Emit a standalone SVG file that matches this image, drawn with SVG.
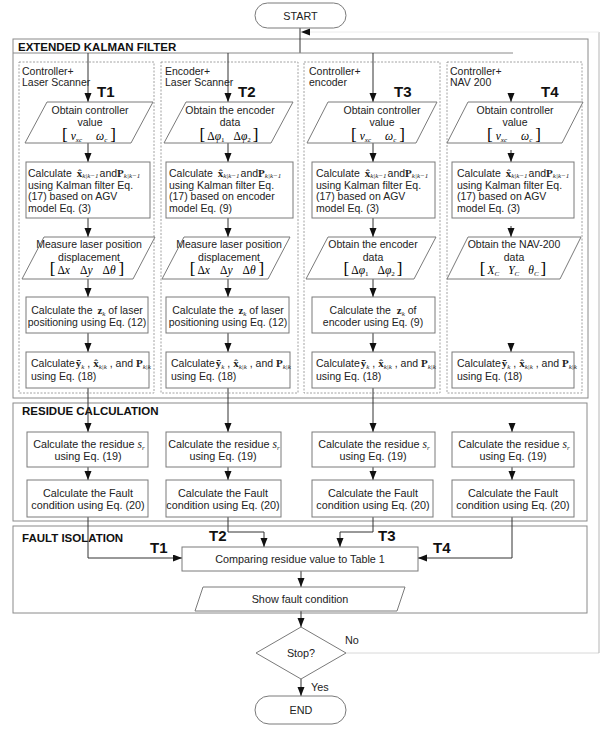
<svg xmlns="http://www.w3.org/2000/svg" width="601" height="729" viewBox="0 0 601 729">
<defs>
<style>
.sec{fill:none;stroke:#8a8a8a;stroke-width:1}
.dash{fill:none;stroke:#8a8a8a;stroke-width:0.8;stroke-dasharray:2 1.5}
.box{fill:#fff;stroke:#7a7a7a;stroke-width:1}
.ln{fill:none;stroke:#333;stroke-width:1}
.t{font-family:"Liberation Sans",Arial,sans-serif;font-size:10.5px;fill:#222}
.r{font-family:"Liberation Sans",Arial,sans-serif;font-size:10.8px;fill:#222}
.h{font-family:"Liberation Sans",Arial,sans-serif;font-size:11.5px;font-weight:bold;fill:#111}
.T{font-family:"Liberation Sans",Arial,sans-serif;font-size:15px;font-weight:bold;fill:#111}
.c{text-anchor:middle}
.mi{font-family:"Liberation Serif",serif;font-style:italic;font-size:11.5px}
.mr{font-family:"Liberation Serif",serif;font-size:11.5px}
.mb{font-family:"Liberation Serif",serif;font-weight:bold;font-size:11px}
.sb{font-family:"Liberation Serif",serif;font-style:italic;font-size:7px}
.sr{font-family:"Liberation Serif",serif;font-size:7px}
.br{font-family:"Liberation Serif",serif;font-size:17px}
</style>
<marker id="ar" markerUnits="userSpaceOnUse" markerWidth="9" markerHeight="8" refX="9" refY="3.5" orient="auto">
<path d="M0,0 L9,3.5 L0,7 z" fill="#111"/>
</marker>
</defs>
<rect width="601" height="729" fill="#fff"/>

<g id="sections">
<rect class="sec" x="13" y="39" width="575" height="359"/>
<rect class="sec" x="13" y="403" width="574" height="118"/>
<rect class="sec" x="13" y="526" width="574" height="87"/>
<text class="h" x="18" y="51">EXTENDED KALMAN FILTER</text>
<text class="h" x="22" y="415">RESIDUE CALCULATION</text>
<text class="h" x="22" y="542">FAULT ISOLATION</text>
</g>

<g id="lanes">
<rect class="dash" x="19" y="62" width="135" height="331"/>
<rect class="dash" x="161" y="62" width="137" height="331"/>
<rect class="dash" x="304" y="62" width="136" height="331"/>
<rect class="dash" x="447" y="62" width="135" height="331"/>
<text class="t" x="22" y="75">Controller+</text>
<text class="t" x="22" y="86">Laser Scanner</text>
<text class="t" x="165" y="75">Encoder+</text>
<text class="t" x="165" y="86">Laser Scanner</text>
<text class="t" x="309" y="75">Controller+</text>
<text class="t" x="309" y="86">encoder</text>
<text class="t" x="450" y="75">Controller+</text>
<text class="t" x="450" y="86">NAV 200</text>
<text class="T" x="97" y="97">T1</text>
<text class="T" x="238" y="97">T2</text>
<text class="T" x="394" y="97">T3</text>
<text class="T" x="541" y="97">T4</text>
</g>

<g id="connectors">
<line class="ln" x1="300" y1="28" x2="300" y2="53"/>
<line x1="13" y1="53" x2="513" y2="53" stroke="#8a8a8a"/>
<line class="ln" x1="88" y1="53" x2="88" y2="102" marker-end="url(#ar)"/>
<line class="ln" x1="228" y1="53" x2="228" y2="102" marker-end="url(#ar)"/>
<line class="ln" x1="373" y1="53" x2="373" y2="102" marker-end="url(#ar)"/>
<line class="ln" x1="511" y1="93" x2="511" y2="102" marker-end="url(#ar)"/>
<line class="ln" x1="88" y1="143" x2="88" y2="162" marker-end="url(#ar)"/>
<line class="ln" x1="88" y1="218" x2="88" y2="237" marker-end="url(#ar)"/>
<line class="ln" x1="88" y1="279" x2="88" y2="297" marker-end="url(#ar)"/>
<line class="ln" x1="88" y1="333" x2="88" y2="352" marker-end="url(#ar)"/>
<line class="ln" x1="88" y1="388" x2="88" y2="432" marker-end="url(#ar)"/>
<line class="ln" x1="88" y1="467" x2="88" y2="480" marker-end="url(#ar)"/>
<polyline class="ln" points="88,517 88,558 182,558" marker-end="url(#ar)"/>
<line class="ln" x1="228" y1="143" x2="228" y2="162" marker-end="url(#ar)"/>
<line class="ln" x1="228" y1="218" x2="228" y2="237" marker-end="url(#ar)"/>
<line class="ln" x1="228" y1="279" x2="228" y2="297" marker-end="url(#ar)"/>
<line class="ln" x1="228" y1="333" x2="228" y2="352" marker-end="url(#ar)"/>
<line class="ln" x1="228" y1="388" x2="228" y2="432" marker-end="url(#ar)"/>
<line class="ln" x1="228" y1="467" x2="228" y2="480" marker-end="url(#ar)"/>
<polyline class="ln" points="228,517 228,532 264,532 264,547" marker-end="url(#ar)"/>
<line class="ln" x1="373" y1="143" x2="373" y2="162" marker-end="url(#ar)"/>
<line class="ln" x1="373" y1="218" x2="373" y2="237" marker-end="url(#ar)"/>
<line class="ln" x1="373" y1="279" x2="373" y2="297" marker-end="url(#ar)"/>
<line class="ln" x1="373" y1="333" x2="373" y2="352" marker-end="url(#ar)"/>
<line class="ln" x1="373" y1="388" x2="373" y2="432" marker-end="url(#ar)"/>
<line class="ln" x1="373" y1="467" x2="373" y2="480" marker-end="url(#ar)"/>
<polyline class="ln" points="373,517 373,532 340,532 340,547" marker-end="url(#ar)"/>
<line class="ln" x1="511" y1="150" x2="511" y2="162" marker-end="url(#ar)"/>
<line class="ln" x1="511" y1="226" x2="511" y2="237" marker-end="url(#ar)"/>
<line class="ln" x1="511" y1="343" x2="511" y2="352" marker-end="url(#ar)"/>
<line class="ln" x1="512" y1="423" x2="512" y2="432" marker-end="url(#ar)"/>
<line class="ln" x1="512" y1="467" x2="512" y2="480" marker-end="url(#ar)"/>
<polyline class="ln" points="512,517 512,558 418,558" marker-end="url(#ar)"/>
<line class="ln" x1="301" y1="571" x2="301" y2="587" marker-end="url(#ar)"/>
<line class="ln" x1="301" y1="611" x2="301" y2="627" marker-end="url(#ar)"/>
<line class="ln" x1="301" y1="679" x2="301" y2="696" marker-end="url(#ar)"/>
<line x1="346" y1="653" x2="599" y2="653" stroke="#d8d8d8"/>
<line x1="599" y1="653" x2="599" y2="32" stroke="#b5b5b5"/>
<line x1="599" y1="32" x2="301" y2="32" stroke="#ececec" marker-end="url(#ar)"/>
<text class="T" x="150" y="553">T1</text>
<text class="T" x="209" y="541">T2</text>
<text class="T" x="378" y="541">T3</text>
<text class="T" x="433" y="553">T4</text>
<text class="r" x="345" y="644">No</text>
<text class="r" x="311" y="691">Yes</text>
</g>

<g id="start">
<rect class="box" x="255" y="3" width="91" height="25" rx="12.5" stroke="#999"/>
<text class="r c" x="300.5" y="19.5">START</text>
</g>

<g id="t1-obtain">
<polygon class="box" points="47,102 153,102 131,143 25,143"/>
<text class="t c" x="90" y="114">Obtain controller</text>
<text class="t c" x="90" y="126">value</text>
<text class="c" x="89" y="140"><tspan class="br">[</tspan><tspan class="mi" dx="3">v</tspan><tspan class="sb" dy="1.5">xc</tspan><tspan class="mi" dx="14" dy="-1.5">ω</tspan><tspan class="sb" dy="1.5">c</tspan><tspan class="br" dx="3" dy="-1.5">]</tspan></text>
</g>
<g id="t1-predict">
<rect class="box" x="26" y="162" width="124" height="56"/>
<text class="t" x="28" y="176.5">Calculate <tspan class="mb" dx="2">x̂</tspan><tspan class="sb" dy="1.5">k|k−1</tspan><tspan dy="-1.5" dx="1">and</tspan><tspan class="mb">P</tspan><tspan class="sb" dy="1.5">k|k−1</tspan></text>
<text class="t" x="28" y="188.5">using Kalman filter Eq.</text>
<text class="t" x="28" y="200">(17) based on AGV</text>
<text class="t" x="28" y="211.5">model Eq. (3)</text>
</g>
<g id="t1-measure">
<polygon class="box" points="44,237 155,237 133,279 22,279"/>
<text class="t c" x="89" y="248">Measure laser position</text>
<text class="t c" x="89" y="261">displacement</text>
<text class="c" x="87" y="274"><tspan class="br">[</tspan><tspan class="mr" dx="2">Δ</tspan><tspan class="mi">x</tspan><tspan class="mr" dx="10">Δ</tspan><tspan class="mi">y</tspan><tspan class="mr" dx="10">Δ</tspan><tspan class="mi">θ</tspan><tspan class="br" dx="3">]</tspan></text>
</g>
<g id="t1-z">
<rect class="box" x="26" y="297" width="122" height="36"/>
<text class="t c" x="87" y="314">Calculate the <tspan class="mb" dx="2">z</tspan><tspan class="sb" dy="1.5">k</tspan><tspan dy="-1.5"> of laser</tspan></text>
<text class="t c" x="87" y="326">positioning using Eq. (12)</text>
</g>
<g id="t1-update">
<rect class="box" x="26" y="352" width="123" height="36"/>
<text class="t" x="31" y="367">Calculate<tspan class="mb" dx="1">ỹ</tspan><tspan class="sb" dy="1.5">k</tspan><tspan dy="-1.5"> , </tspan><tspan class="mb">x̂</tspan><tspan class="sb" dy="1.5">k|k</tspan><tspan dy="-1.5"> , and </tspan><tspan class="mb">P</tspan><tspan class="sb" dy="1.5">k|k</tspan></text>
<text class="t" x="31" y="380">using Eq. (18)</text>
</g>

<g id="t2-obtain">
<polygon class="box" points="186,102 293,102 271,143 164,143"/>
<text class="t c" x="230" y="114">Obtain the encoder</text>
<text class="t c" x="230" y="126">data</text>
<text class="c" x="229" y="140"><tspan class="br">[</tspan><tspan class="mr" dx="2">Δ</tspan><tspan class="mi">φ</tspan><tspan class="sr" dy="1.5">1</tspan><tspan class="mr" dx="9" dy="-1.5">Δ</tspan><tspan class="mi">φ</tspan><tspan class="sr" dy="1.5">2</tspan><tspan class="br" dx="2" dy="-1.5">]</tspan></text>
</g>
<g id="t2-predict">
<rect class="box" x="166" y="162" width="127" height="56"/>
<text class="t" x="169" y="176.5">Calculate <tspan class="mb" dx="2">x̂</tspan><tspan class="sb" dy="1.5">k|k−1</tspan><tspan dy="-1.5" dx="1">and</tspan><tspan class="mb">P</tspan><tspan class="sb" dy="1.5">k|k−1</tspan></text>
<text class="t" x="169" y="188.5">using Kalman filter Eq.</text>
<text class="t" x="169" y="200">(17) based on encoder</text>
<text class="t" x="169" y="211.5">model Eq. (9)</text>
</g>
<g id="t2-measure">
<polygon class="box" points="184,237 290,237 268,279 162,279"/>
<text class="t c" x="229" y="248">Measure laser position</text>
<text class="t c" x="229" y="261">displacement</text>
<text class="c" x="227" y="274"><tspan class="br">[</tspan><tspan class="mr" dx="2">Δ</tspan><tspan class="mi">x</tspan><tspan class="mr" dx="10">Δ</tspan><tspan class="mi">y</tspan><tspan class="mr" dx="10">Δ</tspan><tspan class="mi">θ</tspan><tspan class="br" dx="3">]</tspan></text>
</g>
<g id="t2-z">
<rect class="box" x="166" y="297" width="123" height="36"/>
<text class="t c" x="228" y="314">Calculate the <tspan class="mb" dx="2">z</tspan><tspan class="sb" dy="1.5">k</tspan><tspan dy="-1.5"> of laser</tspan></text>
<text class="t c" x="228" y="326">positioning using Eq. (12)</text>
</g>
<g id="t2-update">
<rect class="box" x="166" y="352" width="124" height="36"/>
<text class="t" x="171" y="367">Calculate<tspan class="mb" dx="1">ỹ</tspan><tspan class="sb" dy="1.5">k</tspan><tspan dy="-1.5"> , </tspan><tspan class="mb">x̂</tspan><tspan class="sb" dy="1.5">k|k</tspan><tspan dy="-1.5"> , and </tspan><tspan class="mb">P</tspan><tspan class="sb" dy="1.5">k|k</tspan></text>
<text class="t" x="171" y="380">using Eq. (18)</text>
</g>

<g id="t3-obtain">
<polygon class="box" points="328,102 437,102 416,143 307,143"/>
<text class="t c" x="382" y="114">Obtain controller</text>
<text class="t c" x="382" y="126">value</text>
<text class="c" x="378" y="140"><tspan class="br">[</tspan><tspan class="mi" dx="3">v</tspan><tspan class="sb" dy="1.5">xc</tspan><tspan class="mi" dx="14" dy="-1.5">ω</tspan><tspan class="sb" dy="1.5">c</tspan><tspan class="br" dx="3" dy="-1.5">]</tspan></text>
</g>
<g id="t3-predict">
<rect class="box" x="312" y="162" width="123" height="56"/>
<text class="t" x="316" y="176.5">Calculate <tspan class="mb" dx="2">x̂</tspan><tspan class="sb" dy="1.5">k|k−1</tspan><tspan dy="-1.5" dx="1">and</tspan><tspan class="mb">P</tspan><tspan class="sb" dy="1.5">k|k−1</tspan></text>
<text class="t" x="316" y="188.5">using Kalman filter Eq.</text>
<text class="t" x="316" y="200">(17) based on AGV</text>
<text class="t" x="316" y="211.5">model Eq. (3)</text>
</g>
<g id="t3-encoder">
<polygon class="box" points="328,237 436,237 414,279 306,279"/>
<text class="t c" x="373" y="248">Obtain the encoder</text>
<text class="t c" x="373" y="261">data</text>
<text class="c" x="373" y="274"><tspan class="br">[</tspan><tspan class="mr" dx="2">Δ</tspan><tspan class="mi">φ</tspan><tspan class="sr" dy="1.5">1</tspan><tspan class="mr" dx="9" dy="-1.5">Δ</tspan><tspan class="mi">φ</tspan><tspan class="sr" dy="1.5">2</tspan><tspan class="br" dx="2" dy="-1.5">]</tspan></text>
</g>
<g id="t3-z">
<rect class="box" x="312" y="297" width="123" height="36"/>
<text class="t c" x="373" y="314">Calculate the <tspan class="mb" dx="3">z</tspan><tspan class="sb" dy="1.5">k</tspan><tspan dy="-1.5"> of</tspan></text>
<text class="t c" x="373" y="326">encoder using Eq. (9)</text>
</g>
<g id="t3-update">
<rect class="box" x="312" y="352" width="123" height="36"/>
<text class="t" x="316" y="367">Calculate<tspan class="mb" dx="1">ỹ</tspan><tspan class="sb" dy="1.5">k</tspan><tspan dy="-1.5"> , </tspan><tspan class="mb">x̂</tspan><tspan class="sb" dy="1.5">k|k</tspan><tspan dy="-1.5"> , and </tspan><tspan class="mb">P</tspan><tspan class="sb" dy="1.5">k|k</tspan></text>
<text class="t" x="316" y="380">using Eq. (18)</text>
</g>

<g id="t4-obtain">
<polygon class="box" points="468,102 583,102 562,143 447,143"/>
<text class="t c" x="515" y="114">Obtain controller</text>
<text class="t c" x="515" y="126">value</text>
<text class="c" x="514" y="140"><tspan class="br">[</tspan><tspan class="mi" dx="3">v</tspan><tspan class="sb" dy="1.5">xc</tspan><tspan class="mi" dx="14" dy="-1.5">ω</tspan><tspan class="sb" dy="1.5">c</tspan><tspan class="br" dx="3" dy="-1.5">]</tspan></text>
</g>
<g id="t4-predict">
<rect class="box" x="452" y="162" width="122" height="56"/>
<text class="t" x="457" y="176.5">Calculate <tspan class="mb" dx="2">x̂</tspan><tspan class="sb" dy="1.5">k|k−1</tspan><tspan dy="-1.5" dx="1">and</tspan><tspan class="mb">P</tspan><tspan class="sb" dy="1.5">k|k−1</tspan></text>
<text class="t" x="457" y="188.5">using Kalman filter Eq.</text>
<text class="t" x="457" y="200">(17) based on AGV</text>
<text class="t" x="457" y="211.5">model Eq. (3)</text>
</g>
<g id="t4-nav">
<polygon class="box" points="468,237 581,237 560,279 447,279"/>
<text class="t c" x="514" y="248">Obtain the NAV-200</text>
<text class="t c" x="514" y="261">data</text>
<text class="c" x="513" y="274"><tspan class="br">[</tspan><tspan class="mi" dx="2">X</tspan><tspan class="sb" dy="1.5">C</tspan><tspan class="mi" dx="9" dy="-1.5">Y</tspan><tspan class="sb" dy="1.5">C</tspan><tspan class="mi" dx="9" dy="-1.5">θ</tspan><tspan class="sb" dy="1.5">C</tspan><tspan class="br" dx="2" dy="-1.5">]</tspan></text>
</g>
<g id="t4-update">
<rect class="box" x="452" y="352" width="122" height="36"/>
<text class="t" x="457" y="367">Calculate<tspan class="mb" dx="1">ỹ</tspan><tspan class="sb" dy="1.5">k</tspan><tspan dy="-1.5"> , </tspan><tspan class="mb">x̂</tspan><tspan class="sb" dy="1.5">k|k</tspan><tspan dy="-1.5"> , and </tspan><tspan class="mb">P</tspan><tspan class="sb" dy="1.5">k|k</tspan></text>
<text class="t" x="457" y="380">using Eq. (18)</text>
</g>

<g id="r1"><rect class="box" x="27" y="432" width="121" height="35"/>
<text class="r c" x="89" y="448">Calculate the residue <tspan class="mi">s</tspan><tspan class="sb" dy="1.5">r</tspan></text>
<text class="r c" x="88" y="460">using Eq. (19)</text></g>
<g id="f1"><rect class="box" x="27" y="480" width="121" height="37"/>
<text class="r c" x="88" y="497">Calculate the Fault</text>
<text class="r c" x="88" y="509">condition using Eq. (20)</text></g>
<g id="r2"><rect class="box" x="166" y="432" width="115" height="35"/>
<text class="r c" x="224" y="448">Calculate the residue <tspan class="mi">s</tspan><tspan class="sb" dy="1.5">r</tspan></text>
<text class="r c" x="223" y="460">using Eq. (19)</text></g>
<g id="f2"><rect class="box" x="166" y="480" width="115" height="37"/>
<text class="r c" x="223" y="497">Calculate the Fault</text>
<text class="r c" x="223" y="509">condition using Eq. (20)</text></g>
<g id="r3"><rect class="box" x="312" y="432" width="123" height="35"/>
<text class="r c" x="374" y="448">Calculate the residue <tspan class="mi">s</tspan><tspan class="sb" dy="1.5">r</tspan></text>
<text class="r c" x="373" y="460">using Eq. (19)</text></g>
<g id="f3"><rect class="box" x="312" y="480" width="121" height="37"/>
<text class="r c" x="373" y="497">Calculate the Fault</text>
<text class="r c" x="373" y="509">condition using Eq. (20)</text></g>
<g id="r4"><rect class="box" x="452" y="432" width="122" height="35"/>
<text class="r c" x="514" y="448">Calculate the residue <tspan class="mi">s</tspan><tspan class="sb" dy="1.5">r</tspan></text>
<text class="r c" x="513" y="460">using Eq. (19)</text></g>
<g id="f4"><rect class="box" x="452" y="480" width="122" height="37"/>
<text class="r c" x="513" y="497">Calculate the Fault</text>
<text class="r c" x="513" y="509">condition using Eq. (20)</text></g>

<g id="compare"><rect class="box" x="182" y="547" width="236" height="24"/>
<text class="r c" x="300" y="563">Comparing residue value to Table 1</text></g>
<g id="show"><polygon class="box" points="203,587 405,587 397,611 195,611"/>
<text class="r c" x="300" y="603">Show fault condition</text></g>
<g id="stop"><polygon class="box" points="301,627 346,653 301,679 256,653"/>
<text class="r c" x="301" y="657">Stop?</text></g>
<g id="end"><rect class="box" x="255" y="696" width="91" height="28" rx="14" stroke="#999"/>
<text class="r c" x="301" y="714">END</text></g>
</svg>
